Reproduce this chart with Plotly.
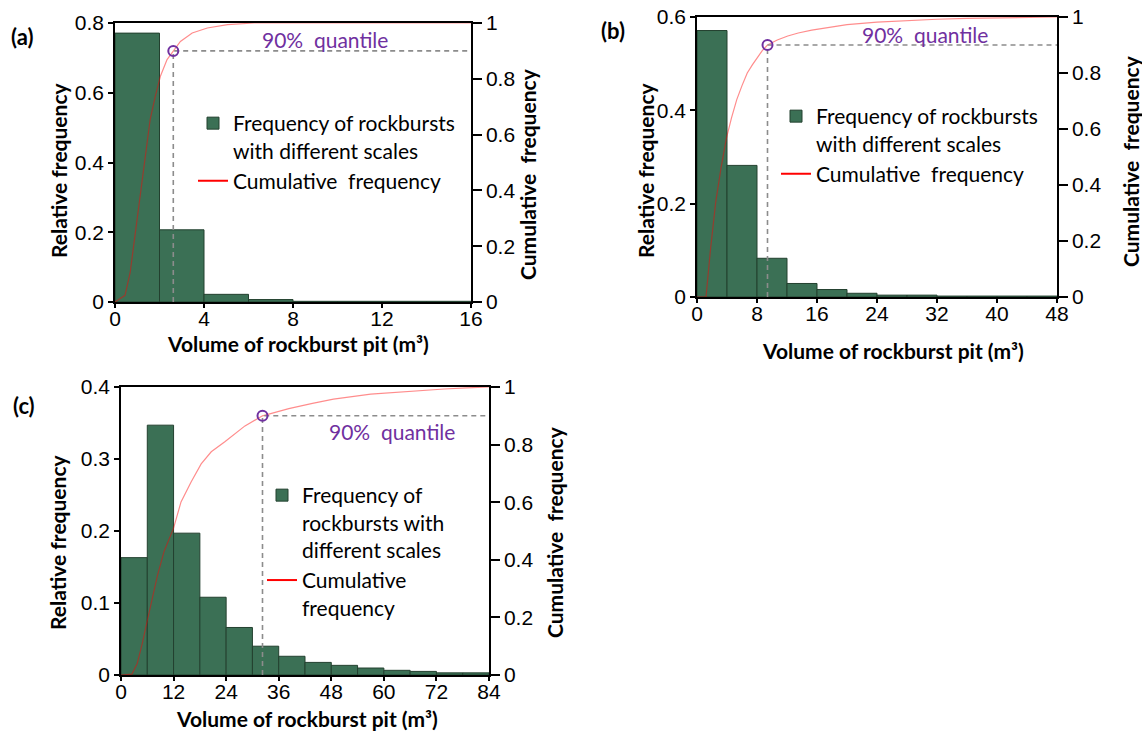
import plotly.graph_objects as go

# ---------------- data ----------------
# panel (a)
a_bin_left = [0, 2, 4, 6, 8, 10, 12, 14]
a_bin_width = 2
a_freq = [0.771, 0.207, 0.022, 0.007, 0.002, 0.002, 0.002, 0.002]
a_cum_x = [0, 0.45, 0.68, 0.91, 1.13, 1.36, 1.58, 1.81, 2.04, 2.34, 2.62, 2.94, 3.47, 4.15, 5.06, 6.26, 8, 10, 12, 14, 16]
a_cum_y = [0, 0.024, 0.105, 0.248, 0.391, 0.535, 0.654, 0.737, 0.809, 0.869, 0.9, 0.934, 0.964, 0.982, 0.994, 1.0, 1, 1, 1, 1, 1]
a_q90 = 2.62

# panel (b)
b_bin_left = [0, 4, 8, 12, 16, 20, 24, 28, 32, 36, 40, 44]
b_bin_width = 4
b_freq = [0.571, 0.282, 0.083, 0.029, 0.016, 0.008, 0.004, 0.004, 0.002, 0.002, 0.002, 0.002]
b_cum_x = [0, 1.2, 1.8, 2.5, 3.2, 3.9, 4.6, 5.3, 6.0, 6.7, 7.4, 8.0, 8.7, 9.4, 10.7, 12.1, 13.5, 15.3, 18.0, 20.0, 24.0, 28, 32, 36, 40, 44, 48]
b_cum_y = [0, 0, 0.17, 0.34, 0.46, 0.565, 0.64, 0.705, 0.755, 0.80, 0.83, 0.855, 0.88, 0.9, 0.918, 0.932, 0.943, 0.953, 0.966, 0.973, 0.982, 0.988, 0.992, 0.995, 0.997, 0.999, 1.0]
b_q90 = 9.4

# panel (c)
c_bin_left = [0, 6, 12, 18, 24, 30, 36, 42, 48, 54, 60, 66, 72, 78]
c_bin_width = 6
c_freq = [0.163, 0.347, 0.197, 0.108, 0.066, 0.040, 0.026, 0.0175, 0.0134, 0.0097, 0.0065, 0.005, 0.003, 0.003]
c_cum_x = [0, 2.5, 3.7, 4.85, 6.0, 7.15, 8.3, 9.85, 12.0, 13.7, 16.0, 18.3, 20.6, 23.7, 28.3, 32.3, 38.3, 43.7, 48.5, 57, 65.4, 73.8, 78.9, 84]
c_cum_y = [0, 0.003, 0.04, 0.109, 0.189, 0.269, 0.344, 0.43, 0.51, 0.601, 0.67, 0.733, 0.775, 0.81, 0.865, 0.9, 0.925, 0.943, 0.958, 0.975, 0.985, 0.993, 0.997, 1.0]
c_q90 = 32.3

q_level = 0.9

# ---------------- style ----------------
W, H = 1142, 739
GREEN = "#3B7055"
GREEN_EDGE = "#23402F"
CURVE = "rgba(255,0,0,0.45)"
PURPLE = "#7030A0"
DASH = "#8c8c8c"
TXT = "Lato"
NUM = "Liberation Sans"
FS = 21

def px(x):
    return x / W

def py(y):
    return 1 - y / H

panels = [
    dict(name="a", left=115, right=471, top=23, bottom=302, xmax=16, ymax=0.8, xdt=4, ydt=0.2,
         bins=a_bin_left, bw=a_bin_width, freq=a_freq, cx=a_cum_x, cy=a_cum_y, q=a_q90,
         qlab=(9.45, 0.94), leg=(193, 103), leg_text=("Frequency of rockbursts<br>with different scales", "Cumulative\u00a0 frequency"),
         label=(22, 36), ytitle=(58, 170), y2title=(527, 174), xtitle=(298, 343)),
    dict(name="b", left=697, right=1057, top=17, bottom=297, xmax=48, ymax=0.6, xdt=8, ydt=0.2,
         bins=b_bin_left, bw=b_bin_width, freq=b_freq, cx=b_cum_x, cy=b_cum_y, q=b_q90,
         qlab=(30.4, 0.937), leg=(776, 96), leg_text=("Frequency of rockbursts<br>with different scales", "Cumulative\u00a0 frequency"),
         label=(613, 30), ytitle=(645, 170), y2title=(1131, 161), xtitle=(893, 350)),
    dict(name="c", left=121, right=489, top=387, bottom=675, xmax=84, ymax=0.4, xdt=12, ydt=0.1,
         bins=c_bin_left, bw=c_bin_width, freq=c_freq, cx=c_cum_x, cy=c_cum_y, q=c_q90,
         qlab=(61.8, 0.847), leg=(262, 475), leg_text=("Frequency of<br>rockbursts with<br>different scales", "Cumulative<br>frequency"),
         label=(24, 405), ytitle=(57, 542), y2title=(554, 532), xtitle=(307, 718)),
]

fig = go.Figure()
layout = {}
annotations = []

for i, p in enumerate(panels):
    xa = "x" if i == 0 else f"x{i+1}"
    ya = "y" if i == 0 else f"y{2*i+1}"
    ya2 = f"y{2*i+2}"
    xkey = "xaxis" if i == 0 else f"xaxis{i+1}"
    ykey = "yaxis" if i == 0 else f"yaxis{2*i+1}"
    y2key = f"yaxis{2*i+2}"
    legkey = "legend" if i == 0 else f"legend{i+1}"

    centers = [b + p["bw"] / 2 for b in p["bins"]]
    fig.add_trace(go.Bar(
        x=centers, y=p["freq"], width=[p["bw"]] * len(centers),
        marker=dict(color=GREEN, line=dict(color=GREEN_EDGE, width=1)),
        name=p["leg_text"][0], xaxis=xa, yaxis=ya, legend=legkey, showlegend=True,
    ))
    # cumulative curve (drawn on right axis)
    fig.add_trace(go.Scatter(
        x=p["cx"], y=p["cy"], mode="lines", line=dict(color=CURVE, width=1.2),
        xaxis=xa, yaxis=ya2, showlegend=False, hoverinfo="skip",
    ))
    # legend-only entry for curve
    fig.add_trace(go.Scatter(
        x=[None], y=[None], mode="lines", line=dict(color="#ff0000", width=2),
        name=p["leg_text"][1], xaxis=xa, yaxis=ya2, legend=legkey, showlegend=True,
    ))
    # dashed quantile guides
    fig.add_trace(go.Scatter(
        x=[p["q"], p["q"], p["xmax"]], y=[0, q_level, q_level], mode="lines",
        line=dict(color=DASH, width=1.6, dash="5px,4px"),
        xaxis=xa, yaxis=ya2, showlegend=False, hoverinfo="skip",
    ))
    # quantile marker
    fig.add_trace(go.Scatter(
        x=[p["q"]], y=[q_level], mode="markers",
        marker=dict(symbol="circle-open", size=10, color=PURPLE, line=dict(width=2, color=PURPLE)),
        xaxis=xa, yaxis=ya2, showlegend=False, hoverinfo="skip",
    ))

    dom_x = [px(p["left"]), px(p["right"])]
    dom_y = [py(p["bottom"]), py(p["top"])]
    layout[xkey] = dict(
        domain=dom_x, anchor=ya, range=[0, p["xmax"]], dtick=p["xdt"], tick0=0,
        showline=True, linecolor="black", linewidth=1.5, mirror=True, automargin=False,
        ticks="outside", ticklen=4, tickwidth=1.5, tickcolor="black", ticklabelstandoff=-7,
        showgrid=False, zeroline=False, tickfont=dict(family=NUM, size=FS, color="black"),
    )
    layout[ykey] = dict(
        domain=dom_y, anchor=xa, range=[0, p["ymax"]], dtick=p["ydt"], tick0=0,
        showline=True, linecolor="black", linewidth=1.5, automargin=False,
        ticks="outside", ticklen=5, tickwidth=1.5, tickcolor="black",
        showgrid=False, zeroline=False, tickfont=dict(family=NUM, size=FS, color="black"),
    )
    layout[y2key] = dict(
        overlaying=ya, side="right", anchor=xa, range=[0, 1], dtick=0.2, tick0=0,
        showline=True, linecolor="black", linewidth=1.5, automargin=False,
        ticks="outside", ticklen=9, tickwidth=1.5, tickcolor="black",
        showgrid=False, zeroline=False, tickfont=dict(family=NUM, size=FS, color="black"),
    )
    layout[legkey] = dict(
        x=px(p["leg"][0]), y=py(p["leg"][1]), xanchor="left", yanchor="top",
        bgcolor="rgba(0,0,0,0)", borderwidth=0, valign="top", tracegroupgap=0,
        font=dict(family=TXT, size=FS, color="black"), itemclick=False,
    )

    # quantile text
    annotations.append(dict(
        x=p["qlab"][0], y=p["qlab"][1], xref=xa, yref=ya2, text="90%\u00a0 quantile",
        showarrow=False, font=dict(family=TXT, size=FS, color=PURPLE),
        xanchor="center", yanchor="middle",
    ))
    # panel label
    annotations.append(dict(
        x=px(p["label"][0]), y=py(p["label"][1]), xref="paper", yref="paper",
        text=f"<b>({p['name']})</b>", showarrow=False, font=dict(family=TXT, size=22, color="black"),
        xanchor="center", yanchor="middle",
    ))
    # axis titles
    annotations.append(dict(
        x=px(p["ytitle"][0]), y=py(p["ytitle"][1]), xref="paper", yref="paper",
        text="<b>Relative frequency</b>", textangle=-90, showarrow=False,
        font=dict(family=TXT, size=FS, color="black"), xanchor="center", yanchor="middle",
    ))
    annotations.append(dict(
        x=px(p["y2title"][0]), y=py(p["y2title"][1]), xref="paper", yref="paper",
        text="<b>Cumulative\u00a0 frequency</b>", textangle=-90, showarrow=False,
        font=dict(family=TXT, size=FS, color="black"), xanchor="center", yanchor="middle",
    ))
    annotations.append(dict(
        x=px(p["xtitle"][0]), y=py(p["xtitle"][1]), xref="paper", yref="paper",
        text="<b>Volume of rockburst pit (m\u00b3)</b>", showarrow=False,
        font=dict(family=TXT, size=FS, color="black"), xanchor="center", yanchor="middle",
    ))

fig.update_layout(
    width=W, height=H, margin=dict(l=0, r=0, t=0, b=0, autoexpand=False),
    paper_bgcolor="white", plot_bgcolor="white",
    barmode="overlay", annotations=annotations, **layout,
)

fig.write_html("out.html")
